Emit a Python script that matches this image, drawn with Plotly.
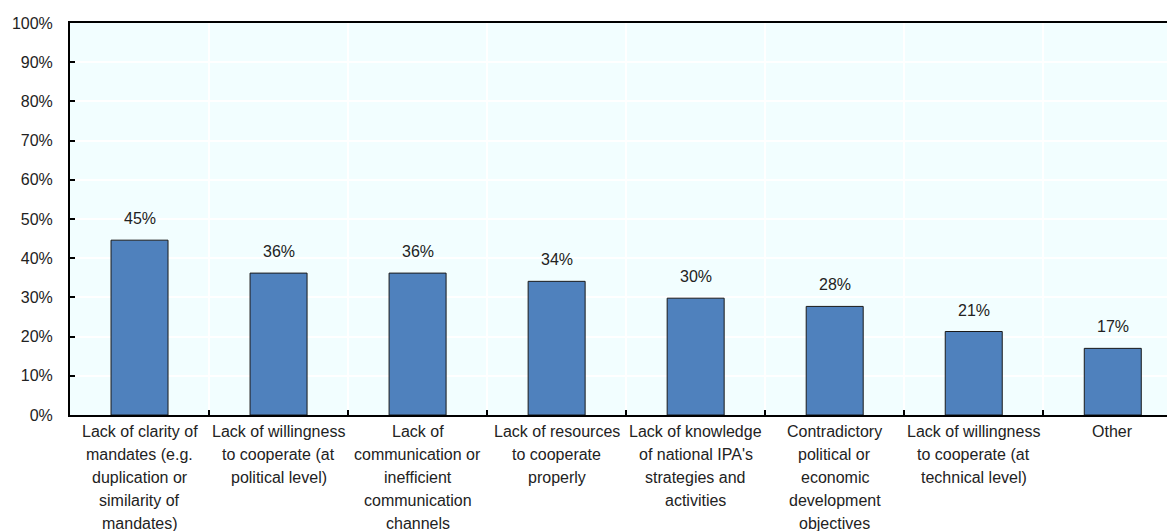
import plotly.graph_objects as go

categories = [
    "Lack of clarity of<br>mandates (e.g.<br>duplication or<br>similarity of<br>mandates)",
    "Lack of willingness<br>to cooperate (at<br>political level)",
    "Lack of<br>communication or<br>inefficient<br>communication<br>channels",
    "Lack of resources<br>to cooperate<br>properly",
    "Lack of knowledge<br>of national IPA's<br>strategies and<br>activities",
    "Contradictory<br>political or<br>economic<br>development<br>objectives",
    "Lack of willingness<br>to cooperate (at<br>technical level)",
    "Other",
]
shares = [0.446, 0.362, 0.362, 0.341, 0.298, 0.277, 0.213, 0.170]

FONT = "Liberation Sans, Arial, sans-serif"
TEXT = "#222222"
SIZE = 16
LINE_STEP = 23  # spacing between wrapped category label lines

fig = go.Figure()
fig.add_trace(go.Bar(
    x=categories,
    y=shares,
    width=0.41,
    marker=dict(color="#4F81BD", line=dict(color="#1a1a1a", width=1)),
    hoverinfo="skip",
))

# value labels above bars
for c, v in zip(categories, shares):
    fig.add_annotation(
        x=c, y=v, text=f"{round(v * 100)}%",
        showarrow=False, yanchor="bottom", yshift=11,
        font=dict(family=FONT, size=SIZE, color=TEXT),
    )

# category labels, one annotation per wrapped line for wider line spacing
for c in categories:
    for i, line in enumerate(c.split("<br>")):
        fig.add_annotation(
            x=c, xref="x", y=0, yref="paper", text=line,
            showarrow=False, yanchor="top", xanchor="center",
            yshift=-(6 + i * LINE_STEP),
            font=dict(family=FONT, size=SIZE, color=TEXT),
        )

fig.update_layout(
    width=1167, height=531,
    margin=dict(l=70, r=0, t=23, b=116),
    paper_bgcolor="white",
    plot_bgcolor="#F2FEFF",
    showlegend=False,
    font=dict(family=FONT, size=SIZE, color=TEXT),
)
fig.update_xaxes(
    range=[-0.5, 7.39],
    tickson="boundaries",
    ticks="inside", ticklen=5, tickcolor="black", tickwidth=2,
    showticklabels=False,
    showgrid=True, gridcolor="white", gridwidth=2,
    showline=True, linecolor="black", linewidth=2, mirror=True,
    fixedrange=True,
)
fig.update_yaxes(
    range=[0, 1], dtick=0.1, tickformat=".0%",
    ticks="inside", ticklen=5, tickcolor="black", tickwidth=2,
    showgrid=True, gridcolor="white", gridwidth=2,
    showline=True, linecolor="black", linewidth=2,
    zeroline=False,
    ticklabelstandoff=12,
    tickfont=dict(family=FONT, size=SIZE, color=TEXT),
    fixedrange=True,
)

fig.write_html("out.html")
